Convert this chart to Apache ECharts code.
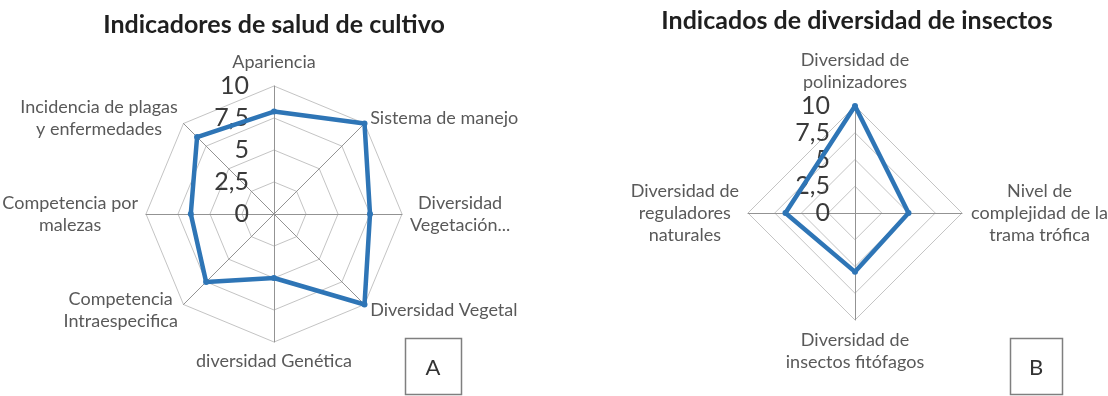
<!DOCTYPE html>
<html>
<head>
<meta charset="utf-8">
<script src="https://cdn.jsdelivr.net/npm/echarts@6/dist/echarts.min.js"></script>
<style>
  html, body { margin: 0; padding: 0; background: #fff; }
  #chart { width: 1108px; height: 396px; }
</style>
</head>
<body>
<div id="chart"></div>
<script>
// ---- Data (clockwise from top) ----
var titleA = 'Indicadores de salud de cultivo';
var categoriesA = [
  'Apariencia',
  'Sistema de manejo',
  'Diversidad\nVegetación...',
  'Diversidad Vegetal',
  'diversidad Genética',
  'Competencia\nIntraespecifica',
  'Competencia por\nmalezas',
  'Incidencia de plagas\ny enfermedades'
];
var valuesA = [8, 10, 7.5, 10, 5, 7.5, 6.5, 8.5];

var titleB = 'Indicados de diversidad de insectos';
var categoriesB = [
  'Diversidad de\npolinizadores',
  'Nivel de\ncomplejidad de la\ntrama trófica',
  'Diversidad de\ninsectos fitófagos',
  'Diversidad de\nreguladores\nnaturales'
];
var valuesB = [10, 5, 5.5, 6.5];

var tickValues = [0, 2.5, 5, 7.5, 10];
var tickLabels = ['0', '2,5', '5', '7,5', '10'];
var panelLabelA = 'A';
var panelLabelB = 'B';

// ---- Helpers ----
// ECharts lays radar indicators counter-clockwise; reorder so they read clockwise.
function ccw(arr) { return [arr[0]].concat(arr.slice(1).reverse()); }

var FONT = 'Lato, "Open Sans", sans-serif';
var BLUE = '#2E75B6';

function tickFormatter(v) {
  for (var i = 0; i < tickValues.length; i++) {
    if (Math.abs(tickValues[i] - v) < 1e-9) return tickLabels[i];
  }
  return '';
}

function buildIndicators(cats) {
  return ccw(cats).map(function (name, i) {
    var ind = { name: name, min: 0, max: 10 };
    if (i === 0) {
      ind.axisLabel = {
        show: true,
        formatter: tickFormatter,
        fontSize: 25,
        fontFamily: FONT,
        color: '#3a3a3a',
        margin: 25,
        align: 'right',
        verticalAlign: 'middle'
      };
    }
    return ind;
  });
}

function radarCommon(center, radius, nameGap) {
  return {
    center: center,
    radius: radius,
    startAngle: 90,
    splitNumber: 4,
    shape: 'polygon',
    nameGap: nameGap,
    axisName: {
      color: '#595959',
      fontSize: 18,
      fontFamily: FONT,
      lineHeight: 22,
      formatter: function (name) {
        return name.split('\n').map(function (l) { return '{c|' + l + '}'; }).join('\n');
      },
      rich: {
        c: { align: 'center', color: '#595959', fontSize: 18, fontFamily: FONT, lineHeight: 22 }
      }
    },
    axisLine: { lineStyle: { color: '#939393', width: 1 } },
    splitLine: { lineStyle: { color: '#c4c4c4', width: 1 } },
    splitArea: { show: false },
    axisTick: { show: false },
    axisLabel: { show: false }
  };
}

var radarA = radarCommon([274, 214], 128, 8);
radarA.indicator = buildIndicators(categoriesA);
var radarB = radarCommon([855, 213], 107, 9);
radarB.indicator = buildIndicators(categoriesB);

var chart = echarts.init(document.getElementById('chart'), null, { renderer: 'canvas' });
chart.setOption({
  backgroundColor: '#ffffff',
  animation: false,
  radar: [radarA, radarB],
  series: [
    {
      type: 'radar',
      radarIndex: 0,
      symbol: 'circle',
      symbolSize: 6,
      lineStyle: { color: BLUE, width: 4.5 },
      itemStyle: { color: BLUE },
      data: [{ value: ccw(valuesA), name: titleA }]
    },
    {
      type: 'radar',
      radarIndex: 1,
      symbol: 'circle',
      symbolSize: 6,
      lineStyle: { color: BLUE, width: 4.5 },
      itemStyle: { color: BLUE },
      data: [{ value: ccw(valuesB), name: titleB }]
    }
  ],
  graphic: [
    { type: 'text', x: 274, y: 25, style: { text: titleA, font: 'bold 25px ' + FONT, fill: '#1f1f1f', align: 'center', verticalAlign: 'middle' } },
    { type: 'text', x: 857, y: 21, style: { text: titleB, font: 'bold 25px ' + FONT, fill: '#1f1f1f', align: 'center', verticalAlign: 'middle' } },
    { type: 'rect', shape: { x: 405.5, y: 338.5, width: 56, height: 56 }, style: { fill: 'none', stroke: '#7f7f7f', lineWidth: 1.5 } },
    { type: 'text', x: 433, y: 368, style: { text: panelLabelA, font: '22px ' + FONT, fill: '#333', align: 'center', verticalAlign: 'middle' } },
    { type: 'rect', shape: { x: 1010.5, y: 338.5, width: 52, height: 56 }, style: { fill: 'none', stroke: '#7f7f7f', lineWidth: 1.5 } },
    { type: 'text', x: 1036, y: 368, style: { text: panelLabelB, font: '22px ' + FONT, fill: '#333', align: 'center', verticalAlign: 'middle' } }
  ]
});
</script>
</body>
</html>
